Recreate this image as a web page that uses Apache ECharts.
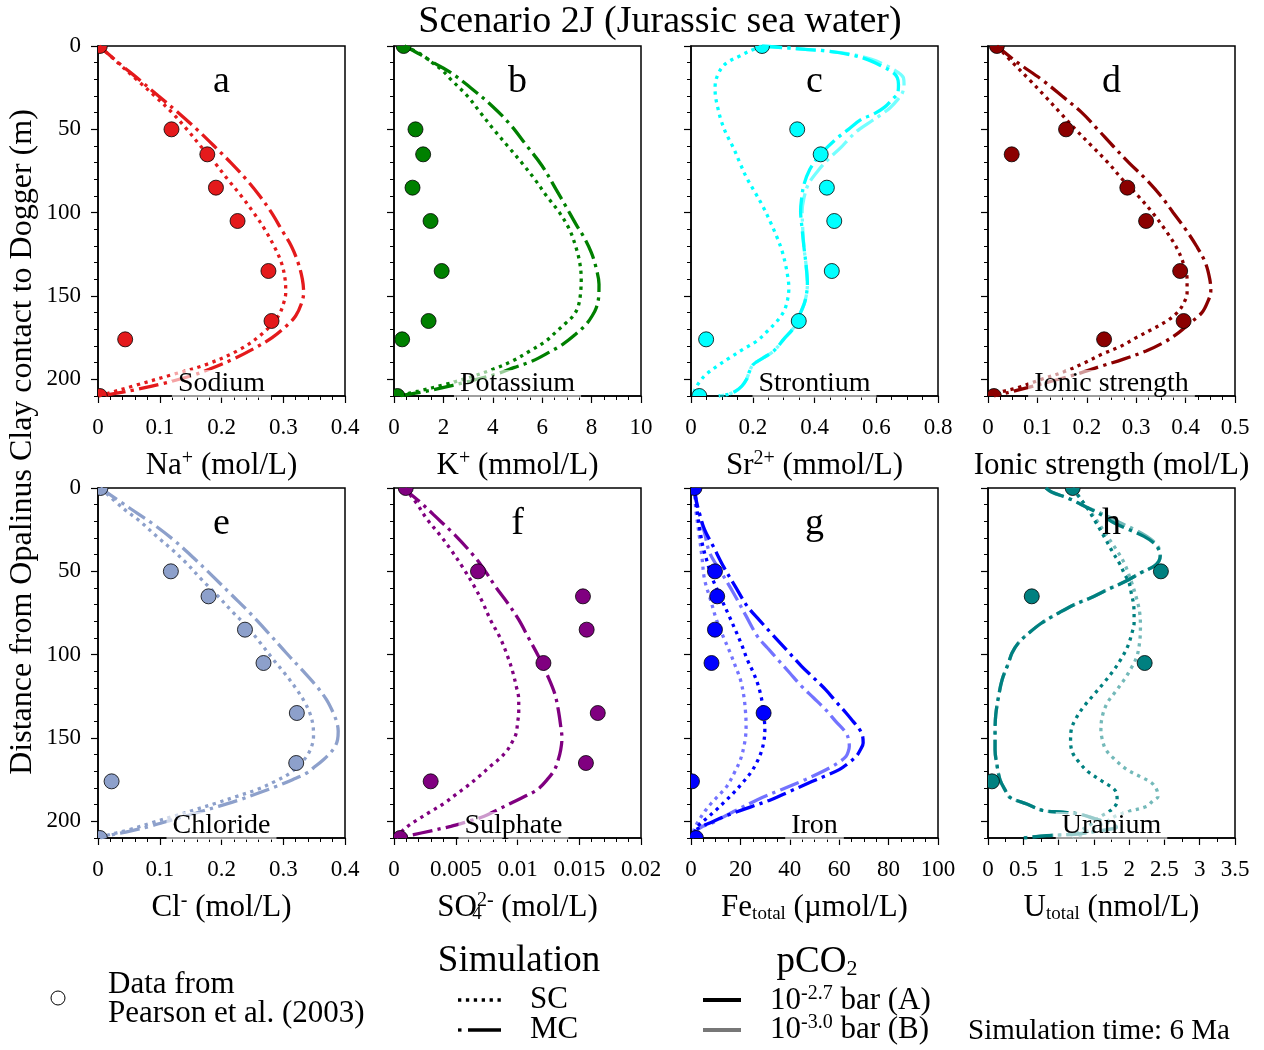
<!DOCTYPE html>
<html><head><meta charset="utf-8">
<script src="https://cdn.jsdelivr.net/npm/echarts@6/dist/echarts.min.js"></script>
<style>html,body{margin:0;padding:0;background:#fff}#c{width:1264px;height:1050px}</style>
</head><body><div id="c"></div>
<script>
// ---------------- DATA ----------------
const depthTicks = [0, 50, 100, 150, 200];
const obsDepth = [0, 50, 65, 85, 105, 135, 165, 176, 210];
const naObs  = [0.003, 0.119, 0.177, 0.191, 0.226, 0.276, 0.281, 0.044, 0.003];
const kObs   = [0.39, 0.87, 1.18, 0.75, 1.48, 1.93, 1.40, 0.33, 0.14];
const srObs  = [0.23, 0.344, 0.42, 0.44, 0.464, 0.456, 0.349, 0.049, 0.027];
const isObs  = [0.018, 0.158, 0.048, 0.282, 0.320, 0.389, 0.396, 0.235, 0.012];
const clObs  = [0.004, 0.118, 0.179, 0.238, 0.268, 0.322, 0.321, 0.022, 0.003];
const so4Obs = [0.00095, 0.0068, 0.0153, 0.0156, 0.0121, 0.0165, 0.01554, 0.00297, 0.0005];
const feObs  = [1.4, 9.7, 10.6, 9.7, 8.3, 29.4, null, 0.4, 2.0];
const uObs   = [1.2, 2.45, 0.62, null, 2.22, null, null, 0.056, null];

// simulated profiles: [value, depth]
const naSC = [[0.002,0],[0.032,10],[0.062,20],[0.092,30],[0.12,40],[0.144,50],[0.166,60],[0.189,70],[0.21,80],[0.232,90],[0.252,100],[0.27,110],[0.285,120],[0.297,130],[0.303,140],[0.304,148],[0.3,155],[0.292,162],[0.268,172],[0.23,182],[0.176,191],[0.122,197],[0.057,204],[0.02,208],[0,210]];
const naMC = [[0.002,0],[0.033,10],[0.066,20],[0.098,30],[0.13,40],[0.16,50],[0.188,60],[0.215,70],[0.24,80],[0.262,90],[0.281,100],[0.297,110],[0.313,120],[0.324,130],[0.331,140],[0.333,148],[0.329,155],[0.32,162],[0.305,168],[0.282,175],[0.25,182],[0.218,188],[0.18,194],[0.15,198],[0.1,203],[0.05,207],[0.002,210]];
const kSC = [[0.42,0],[1.1,5],[1.55,10],[1.98,15],[2.3,20],[2.97,30],[3.5,40],[4.03,50],[4.6,60],[5.17,70],[5.7,80],[6.18,90],[6.7,100],[7.1,110],[7.35,120],[7.52,130],[7.58,140],[7.54,150],[7.44,157],[7.25,162],[6.97,166],[6.6,171],[6.15,177],[5.5,183],[4.79,189],[4.0,194],[3.02,199],[2.1,203],[1.0,207],[0.15,210]];
const kMC = [[0.42,0],[1.05,5],[1.6,10],[2.3,16],[3.1,25],[3.97,36],[4.7,47],[5.33,59],[6.0,72],[6.56,86],[6.95,96],[7.37,107],[7.7,115],[7.99,124],[8.18,133],[8.3,143],[8.29,150],[8.19,157],[8.02,162],[7.78,167],[7.35,173],[6.83,179],[6.25,184],[5.6,189],[4.85,193],[4.1,197],[3.1,201],[1.66,206],[1.0,208],[0.2,210]];
const srSC = [[0.23,0],[0.19,3],[0.158,6],[0.125,9],[0.104,12],[0.09,16],[0.08,21],[0.078,26],[0.08,31],[0.088,38],[0.098,45],[0.115,53],[0.137,61],[0.158,70],[0.18,79],[0.208,88],[0.235,97],[0.258,106],[0.279,115],[0.295,123],[0.306,131],[0.313,138],[0.317,145],[0.314,151],[0.306,157],[0.295,161],[0.279,165],[0.248,171],[0.213,177],[0.168,182],[0.126,187],[0.085,192],[0.049,197],[0.03,201],[0.016,205],[0.005,210]];
const srMC = [[0.23,0],[0.3,1],[0.37,2],[0.44,3],[0.51,5],[0.57,8],[0.617,12],[0.655,16],[0.668,19],[0.672,23],[0.67,28],[0.652,32],[0.625,37],[0.59,41],[0.552,44],[0.51,50],[0.475,55],[0.44,61],[0.41,67],[0.385,74],[0.366,83],[0.358,92],[0.355,99],[0.36,110],[0.366,121],[0.373,132],[0.377,143],[0.373,150],[0.366,155],[0.35,162],[0.333,169],[0.3,176],[0.268,183],[0.235,187],[0.202,191],[0.19,195],[0.18,200],[0.165,204],[0.145,207],[0.12,209],[0.09,210]];
const srMCB = [[0.23,0],[0.3,1],[0.37,2],[0.44,3],[0.52,5],[0.585,8],[0.635,12],[0.672,16],[0.688,19],[0.69,23],[0.685,28],[0.67,32],[0.645,37],[0.617,41],[0.585,45],[0.545,50],[0.515,55],[0.485,61],[0.45,67],[0.415,74],[0.38,83],[0.365,92],[0.36,99],[0.362,110],[0.366,121],[0.373,132],[0.377,143],[0.373,150],[0.366,155],[0.35,162],[0.333,169],[0.3,176],[0.268,183],[0.235,187],[0.202,191],[0.19,195],[0.18,200],[0.165,204],[0.145,207],[0.12,209],[0.09,210]];
const isSC = [[0.018,0],[0.05,10],[0.083,20],[0.115,30],[0.146,40],[0.177,50],[0.21,60],[0.243,70],[0.272,80],[0.304,90],[0.333,100],[0.358,110],[0.38,120],[0.395,130],[0.403,140],[0.403,148],[0.395,155],[0.383,160],[0.362,165],[0.332,170],[0.3,175],[0.27,180],[0.23,185],[0.196,190],[0.158,195],[0.108,200],[0.06,205],[0.022,208],[0.012,210]];
const isMC = [[0.018,0],[0.06,10],[0.108,20],[0.15,30],[0.19,40],[0.222,50],[0.253,60],[0.285,70],[0.32,80],[0.35,90],[0.375,100],[0.4,110],[0.422,120],[0.44,130],[0.449,140],[0.451,147],[0.444,154],[0.433,160],[0.41,166],[0.386,172],[0.355,178],[0.32,183],[0.273,188],[0.23,192],[0.178,197],[0.13,201],[0.08,205],[0.04,208],[0.012,210]];
const clSC = [[0.004,0],[0.04,12],[0.068,20],[0.095,29],[0.12,37],[0.143,45],[0.168,55],[0.192,64],[0.217,74],[0.241,83],[0.263,93],[0.284,103],[0.304,112],[0.322,121],[0.334,128],[0.343,135],[0.348,142],[0.349,149],[0.346,155],[0.338,161],[0.326,166],[0.311,171],[0.287,176],[0.257,181],[0.225,185],[0.192,189],[0.157,193],[0.122,197],[0.086,201],[0.051,205],[0.008,209],[0.003,210]];
const clMC = [[0.004,0],[0.051,12],[0.087,21],[0.122,31],[0.155,42],[0.186,53],[0.216,64],[0.246,75],[0.276,87],[0.305,99],[0.33,109],[0.354,119],[0.37,127],[0.381,135],[0.387,141],[0.389,146],[0.388,151],[0.384,155],[0.376,159],[0.365,163],[0.352,167],[0.338,171],[0.315,175],[0.289,179],[0.26,183],[0.23,187],[0.195,191],[0.159,195],[0.121,199],[0.084,203],[0.05,206],[0.024,208],[0.004,210]];
const so4SC = [[0.0009,0],[0.0011,2],[0.0019,10],[0.0027,19],[0.0037,28],[0.0046,37],[0.0056,48],[0.0065,59],[0.0072,69],[0.0078,79],[0.0086,90],[0.0092,101],[0.0096,110],[0.0099,119],[0.0101,127],[0.0101,135],[0.01,141],[0.0099,147],[0.0096,152],[0.0092,157],[0.0086,162],[0.0078,167],[0.0069,173],[0.0059,179],[0.005,184],[0.0041,189],[0.003,194],[0.0019,199],[0.0011,203],[0.0005,207],[0.0002,210]];
const so4MC = [[0.0009,0],[0.0011,2],[0.0022,9],[0.0032,16],[0.0049,28],[0.0065,41],[0.0074,50],[0.0082,59],[0.0092,69],[0.0101,79],[0.0109,90],[0.0117,101],[0.0124,112],[0.013,123],[0.0133,133],[0.0135,143],[0.0136,150],[0.0135,157],[0.0133,163],[0.013,169],[0.0124,175],[0.0116,181],[0.0106,185],[0.0095,189],[0.0084,193],[0.0073,197],[0.006,200],[0.0046,203],[0.0022,207],[0.001,209],[0.0005,210]];
const feSC = [[1.4,0],[2.0,8],[2.8,17],[3.7,26],[4.8,35],[6.5,44],[8.3,53],[10.3,60],[12.4,67],[15.2,76],[17.9,85],[20.5,94],[22.8,103],[25.0,110],[26.9,117],[28.5,126],[29.4,135],[29.9,145],[29.5,152],[28.3,159],[26.5,165],[24.1,171],[20.8,177],[17.2,183],[13.8,188],[10.3,193],[6.5,198],[3.4,202],[1.6,206],[0.4,210]];
const feSCB = [[1.4,0],[1.7,8],[2.1,15],[3.3,28],[4.4,41],[5.5,55],[7.9,67],[10.3,79],[13.0,89],[15.9,99],[18.0,107],[20.0,115],[21.4,125],[22.1,135],[22.3,142],[22.1,149],[21.3,156],[20.0,163],[17.5,171],[14.5,179],[11.5,184],[8.3,189],[5.6,194],[3.4,199],[1.5,204],[0.3,210]];
const feMC = [[1.4,0],[2.2,8],[3.4,15],[5.5,25],[9.0,35],[13.1,47],[17.9,59],[22.8,71],[27.5,79],[32.4,87],[38.6,97],[44.8,107],[49.7,114],[54.5,121],[58.6,128],[62.8,135],[65.6,140],[68.3,145],[69.5,149],[69.7,153],[68.6,157],[66.9,161],[63.8,165],[60.0,169],[54.0,173],[47.6,177],[40.0,182],[32.4,187],[24.8,191],[17.2,195],[12.0,198],[7.6,201],[4.5,203],[2.1,205],[0.5,208],[0.2,210]];
const feMCB = [[1.4,0],[2.1,8],[3.2,15],[5.5,27],[7.6,39],[12.4,51],[17.2,63],[22.0,76],[26.9,89],[31.0,96],[35.2,103],[40.0,111],[44.8,119],[49.7,126],[54.5,133],[58.6,140],[62.8,147],[63.8,151],[64.1,155],[63.7,158],[62.8,161],[60.5,164],[57.2,167],[52.0,171],[46.2,175],[36.5,181],[26.9,187],[17.5,194],[11.0,199],[8.5,201],[4.8,203],[2.0,206],[0.3,210]];
const uSC = [[1.2,0],[1.25,3],[1.39,11],[1.52,20],[1.67,31],[1.76,38],[1.86,45],[1.94,52],[2.0,57],[2.03,63],[2.06,69],[2.07,75],[2.07,81],[2.04,87],[1.98,95],[1.88,103],[1.77,110],[1.64,117],[1.5,124],[1.36,131],[1.25,138],[1.18,145],[1.17,152],[1.2,159],[1.3,165],[1.41,170],[1.62,176],[1.81,182],[1.83,188],[1.75,193],[1.6,197],[1.45,202],[1.3,206],[1.2,210]];
const uSCB = [[1.2,0],[1.25,3],[1.39,11],[1.55,20],[1.69,29],[1.82,37],[1.93,45],[2.03,56],[2.11,67],[2.15,75],[2.16,83],[2.15,92],[2.11,101],[2.03,108],[1.93,115],[1.81,122],[1.69,129],[1.62,137],[1.6,145],[1.62,151],[1.67,157],[1.8,163],[1.97,169],[2.15,173],[2.32,177],[2.39,181],[2.41,185],[2.33,188],[2.25,191],[2.0,194],[1.8,197],[1.65,201],[1.45,205],[1.25,210]];
const uMC = [[0.82,0],[0.9,2.4],[1.15,6.4],[1.39,11.4],[1.6,16],[1.79,21],[2.0,25],[2.21,29],[2.35,33],[2.42,37],[2.44,41],[2.42,44],[2.35,47],[2.16,51],[1.95,56],[1.69,61],[1.45,66],[1.22,70],[1.0,75],[0.76,81],[0.58,87],[0.43,93],[0.34,99],[0.29,105],[0.2,115],[0.15,125],[0.11,136],[0.1,147],[0.1,157],[0.13,167],[0.17,175],[0.24,181],[0.31,185.6],[0.55,189.6],[0.78,193.5],[1.06,194.5],[1.3,195.7],[1.53,198.6],[1.76,201.6],[1.82,203.5],[1.6,205.5],[1.25,207.6],[0.83,208.6],[0.5,210]];
const uMCB = [[0.82,0],[0.9,2.4],[1.15,6.4],[1.39,11.4],[1.65,16],[1.88,21],[2.08,25],[2.25,29],[2.37,33],[2.43,37],[2.44,41],[2.42,44],[2.35,47],[2.16,51],[1.95,56],[1.69,61],[1.45,66],[1.22,70],[1.0,75],[0.76,81],[0.58,87],[0.43,93],[0.34,99],[0.29,105],[0.2,115],[0.15,125],[0.11,136],[0.1,147],[0.1,157],[0.13,167],[0.17,175],[0.24,181],[0.31,185.6],[0.55,189.6],[0.78,193.5],[1.06,194.5],[1.3,195.7],[1.53,198.6],[1.76,201.6],[1.82,203.5],[1.6,205.5],[1.25,207.6],[0.83,208.6],[0.5,210]];

const xMax      = [0.4, 10, 0.8, 0.5, 0.4, 0.02, 100, 3.5];
const xInterval = [0.1, 2, 0.2, 0.1, 0.1, 0.005, 20, 0.5];
const xMinor    = [5, 4, 4, 4, 5, 5, 4, 2];
const letters   = ['a','b','c','d','e','f','g','h'];
const names     = ['Sodium','Potassium','Strontium','Ionic strength','Chloride','Sulphate','Iron','Uranium'];
const colors    = ['#e41a1c','#008000','#00ffff','#8b0000','#8da0cb','#800080','#0000ff','#008080'];
const xTitles   = ['{t|Na}{sup|+}{t| (mol/L)}','{t|K}{sup|+}{t| (mmol/L)}','{t|Sr}{sup|2+}{t| (mmol/L)}','{t|Ionic strength (mol/L)}',
                   '{t|Cl}{sup|-}{t| (mol/L)}','{t|SO}{subz|4}{sup|2-}{t| (mol/L)}','{t|Fe}{sub|total}{t| (µmol/L)}','{t|U}{sub|total}{t| (nmol/L)}'];

// ---------------- BUILD ----------------
const FONT = "'Liberation Serif','Times New Roman',serif";
const panels = [
  {obs:naObs, sc:naSC, mc:naMC},
  {obs:kObs, sc:kSC, mc:kMC},
  {obs:srObs, sc:srSC, mc:srMC, mcB:srMCB},
  {obs:isObs, sc:isSC, mc:isMC},
  {obs:clObs, sc:clSC, mc:clMC},
  {obs:so4Obs, sc:so4SC, mc:so4MC},
  {obs:feObs, sc:feSC, mc:feMC, scB:feSCB, mcB:feMCB},
  {obs:uObs, sc:uSC, mc:uMC, scB:uSCB, mcB:uMCB}
];
const LEFTS = [98, 394, 691, 988], TOPS = [46, 488], W = 247, H = 350;
const LW = 3.3;
const SC_DASH = [3.3, 4.6];
const MC_DASH = [20, 5.3, 3.3, 5.3];
const grids = [], xAxes = [], yAxes = [], series = [], graphics = [];

function lineSeries(data, color, dash, op, i, z) {
  return {type:'line', xAxisIndex:i, yAxisIndex:2*i, data:data, showSymbol:false, symbol:'none',
    smooth:0.35, clip:true, silent:true, z:z, animation:false,
    lineStyle:{color:color, width:LW, type:dash, opacity:op, cap:'butt'}};
}
function pointSeries(pts, color, i) {
  return {type:'custom', xAxisIndex:i, yAxisIndex:2*i, data:pts, encode:{x:0, y:1}, clip:true, z:5, silent:true,
    renderItem:function(params, api) {
      const c = api.coord([api.value(0), api.value(1)]);
      const cs = params.coordSys;
      return {type:'circle', shape:{cx:c[0], cy:c[1], r:7.5},
        style:{fill:color, stroke:'#000', lineWidth:0.8},
        clipPath:{type:'rect', shape:{x:cs.x, y:cs.y, width:cs.width, height:cs.height}}};
    }};
}
const sup = {fontSize:20, fontFamily:FONT, fill:'#000', padding:[0,0,15,0]};
const sub = {fontSize:19, fontFamily:FONT, fill:'#000', padding:[12,0,0,0]};
const subz = {fontSize:19, fontFamily:FONT, fill:'#000', padding:[12,0,0,0], width:0.01};
const tSty = {fontSize:31, fontFamily:FONT, fill:'#000'};

panels.forEach((p, i) => {
  const col = i % 4, row = Math.floor(i / 4);
  const left = LEFTS[col], top = TOPS[row];
  grids.push({left:left, top:top, width:W, height:H, show:true, borderColor:'#000', borderWidth:1.5, backgroundColor:'rgba(0,0,0,0)'});
  xAxes.push({gridIndex:i, type:'value', min:0, max:xMax[i], interval:xInterval[i], position:'bottom',
    axisLine:{onZero:false, lineStyle:{color:'#000', width:1.5}},
    axisTick:{length:7, lineStyle:{color:'#000', width:1.2}},
    minorTick:{show:true, splitNumber:xMinor[i], length:4, lineStyle:{color:'#000', width:1}},
    axisLabel:{color:'#000', fontFamily:FONT, fontSize:23, margin:20},
    splitLine:{show:false}, minorSplitLine:{show:false}});
  yAxes.push({gridIndex:i, type:'value', inverse:true, min:0, max:210, interval:50, position:'left',
    axisLine:{onZero:false, lineStyle:{color:'#000', width:1.5}},
    axisTick:{length:7, lineStyle:{color:'#000', width:1.2}, customValues:depthTicks},
    axisLabel:{show:col === 0, customValues:depthTicks, color:'#000', fontFamily:FONT, fontSize:23, margin:17,
      formatter:function(v){ return v % 50 === 0 ? String(v) : ''; }},
    splitLine:{show:false}});
  yAxes.push({gridIndex:i, type:'value', inverse:true, min:0, max:210, interval:10, position:'left',
    axisLine:{show:false}, axisTick:{length:4, lineStyle:{color:'#000', width:1}},
    axisLabel:{show:false}, splitLine:{show:false}});

  if (p.mcB) series.push(lineSeries(p.mcB, colors[i], MC_DASH, 0.55, i, 2));
  if (p.scB) series.push(lineSeries(p.scB, colors[i], SC_DASH, 0.55, i, 2));
  series.push(lineSeries(p.sc, colors[i], SC_DASH, 1, i, 3));
  series.push(lineSeries(p.mc, colors[i], MC_DASH, 1, i, 3));
  const pts = [];
  obsDepth.forEach((d, k) => { if (p.obs[k] != null) pts.push([p.obs[k], d]); });
  series.push(pointSeries(pts, colors[i], i));

  const cx = left + W / 2;
  graphics.push({type:'text', z:60, style:{text:letters[i], x:cx, y:top + 36, fontSize:38, fontFamily:FONT, fill:'#000', align:'center', verticalAlign:'middle'}});
  graphics.push({type:'text', z:60, style:{text:names[i], x:cx - (i===5 ? 4 : 0), y:top + 338, fontSize:28, fontFamily:FONT, fill:'#000',
    align:'center', verticalAlign:'middle', backgroundColor:'rgba(255,255,255,0.6)', padding:[0,6,0,6]}});
  graphics.push({type:'text', z:60, style:{text:xTitles[i], x:cx, y:top + H + 70, align:'center', verticalAlign:'middle',
    fontSize:31, fontFamily:FONT, fill:'#000', rich:{t:tSty, sup:sup, sub:sub, subz:subz}}});
});

graphics.push({type:'text', z:60, style:{text:'Scenario 2J (Jurassic sea water)', x:660, y:22, fontSize:38, fontFamily:FONT, fill:'#000', align:'center', verticalAlign:'middle'}});
graphics.push({type:'text', z:60, x:23, y:442, rotation:Math.PI/2, style:{text:'Distance from Opalinus Clay contact to Dogger (m)', x:0, y:0, fontSize:32, fontFamily:FONT, fill:'#000', align:'center', verticalAlign:'middle'}});

const lg = {fontSize:31, fontFamily:FONT, fill:'#000'};
graphics.push({type:'circle', z:60, shape:{cx:58, cy:998, r:7}, style:{fill:'#fff', stroke:'#000', lineWidth:1}});
graphics.push({type:'text', z:60, style:Object.assign({text:'Data from', x:108, y:985, align:'left', verticalAlign:'middle'}, lg)});
graphics.push({type:'text', z:60, style:Object.assign({text:'Pearson et al. (2003)', x:108, y:1014, align:'left', verticalAlign:'middle'}, lg)});
graphics.push({type:'text', z:60, style:{text:'Simulation', x:519, y:961, fontSize:37, fontFamily:FONT, fill:'#000', align:'center', verticalAlign:'middle'}});
graphics.push({type:'line', z:60, shape:{x1:458, y1:1000, x2:502, y2:1000}, style:{stroke:'#000', lineWidth:3.3, lineDash:[3.3, 4.6]}});
graphics.push({type:'line', z:60, shape:{x1:458, y1:1030, x2:461.5, y2:1030}, style:{stroke:'#000', lineWidth:3.3}});
graphics.push({type:'line', z:60, shape:{x1:468, y1:1030, x2:501, y2:1030}, style:{stroke:'#000', lineWidth:3.3}});
graphics.push({type:'text', z:60, style:Object.assign({text:'SC', x:530, y:1000, align:'left', verticalAlign:'middle'}, lg)});
graphics.push({type:'text', z:60, style:Object.assign({text:'MC', x:530, y:1030, align:'left', verticalAlign:'middle'}, lg)});
graphics.push({type:'text', z:60, style:{text:'{h|pCO}{hs|2}', x:817, y:962, align:'center', verticalAlign:'middle', fontSize:37, fontFamily:FONT, fill:'#000',
  rich:{h:{fontSize:37, fontFamily:FONT, fill:'#000'}, hs:{fontSize:22, fontFamily:FONT, fill:'#000', padding:[14,0,0,0]}}}});
graphics.push({type:'line', z:60, shape:{x1:703, y1:1000, x2:741, y2:1000}, style:{stroke:'#000', lineWidth:4}});
graphics.push({type:'line', z:60, shape:{x1:703, y1:1030, x2:741, y2:1030}, style:{stroke:'#777', lineWidth:4}});
const legRich = {t:{fontSize:31, fontFamily:FONT, fill:'#000'}, sup:{fontSize:20, fontFamily:FONT, fill:'#000', padding:[0,0,15,0]}};
graphics.push({type:'text', z:60, style:{text:'{t|10}{sup|-2.7}{t| bar (A)}', x:770, y:1001, align:'left', verticalAlign:'middle', fontSize:31, fontFamily:FONT, fill:'#000', rich:legRich}});
graphics.push({type:'text', z:60, style:{text:'{t|10}{sup|-3.0}{t| bar (B)}', x:770, y:1030, align:'left', verticalAlign:'middle', fontSize:31, fontFamily:FONT, fill:'#000', rich:legRich}});
graphics.push({type:'text', z:60, style:{text:'Simulation time: 6 Ma', x:968, y:1031, fontSize:29, fontFamily:FONT, fill:'#000', align:'left', verticalAlign:'middle'}});

const chart = echarts.init(document.getElementById('c'), null, {renderer:'canvas', width:1264, height:1050});
chart.setOption({
  animation:false,
  backgroundColor:'#fff',
  grid:grids, xAxis:xAxes, yAxis:yAxes, series:series,
  graphic:{elements:graphics}
});
</script></body></html>
